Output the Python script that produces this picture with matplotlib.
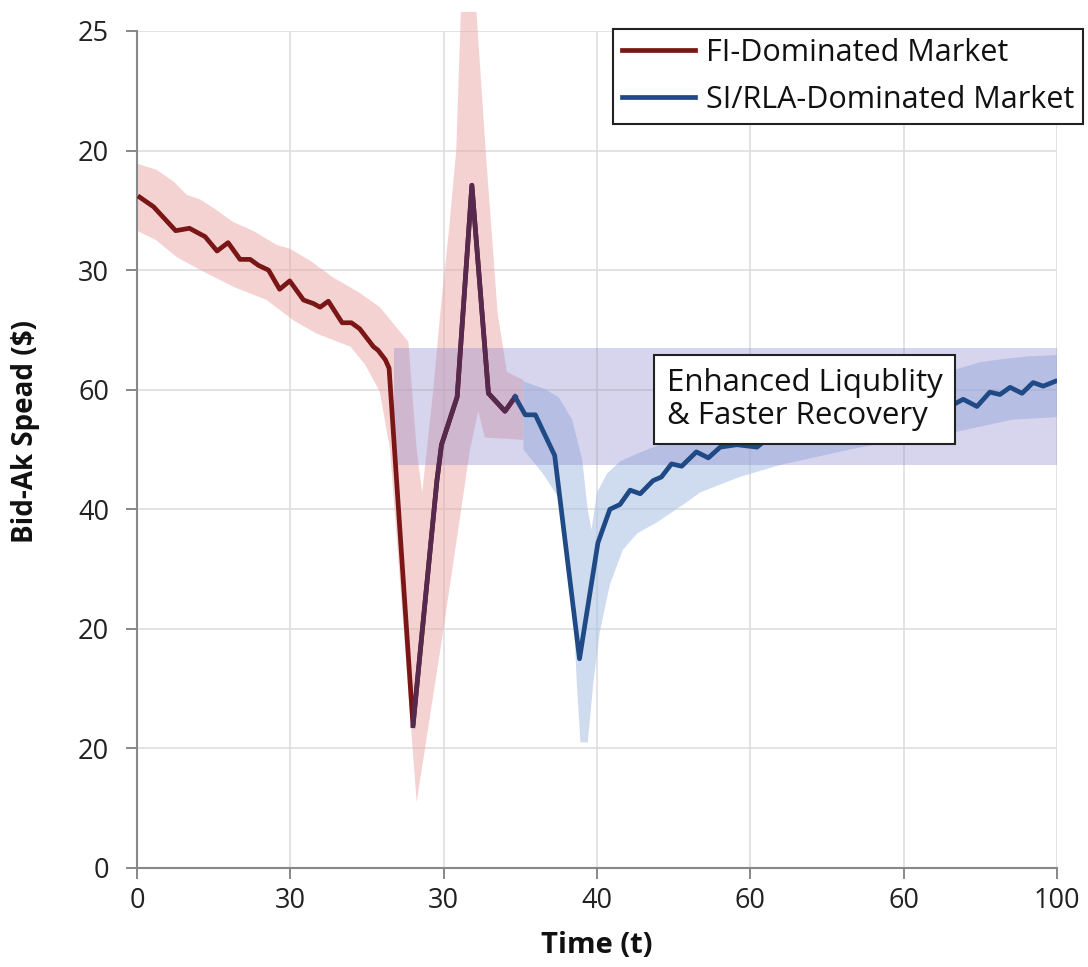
import matplotlib.pyplot as plt
from matplotlib.patches import Rectangle

plt.rcParams["font.family"] = ["Open Sans", "DejaVu Sans"]

# FI-dominated market: spread path
fi_t = [0.3, 1.8, 4.2, 5.7, 7.4, 8.7, 9.9, 11.2, 12.3, 13.2, 14.3, 15.5, 16.6,
        18.1, 19.2, 19.9, 20.8, 22.3, 23.3, 24.2, 25.7, 26.2, 27.0, 27.4,
        30.0, 32.6, 33.1, 34.8, 36.4, 38.2, 40.0, 41.1]
fi_y = [56.1, 55.3, 53.3, 53.5, 52.8, 51.6, 52.3, 50.9, 50.9, 50.4, 50.0, 48.4, 49.1,
        47.5, 47.2, 46.9, 47.4, 45.6, 45.6, 45.1, 43.6, 43.3, 42.5, 41.8,
        11.9, 32.4, 35.4, 39.4, 57.1, 39.7, 38.2, 39.4]
FI_SHOCK_START = 24  # index of the trough; the rebound is drawn in purple

fi_upper_t = [0.0, 2.1, 4.0, 5.4, 6.9, 8.7, 10.5, 12.6, 15.2, 16.6, 18.8, 21.3, 24.2,
              26.4, 27.9, 29.5, 30.4, 31.0, 31.5, 32.2, 33.0, 33.9, 34.7, 35.2,
              36.9, 37.9, 39.2, 40.2, 42.0]
fi_upper = [58.9, 58.4, 57.4, 56.3, 55.9, 55.0, 54.0, 53.3, 52.1, 51.8, 50.8, 49.4, 48.1,
            46.9, 45.5, 44.0, 35.0, 31.4, 35.0, 40.0, 46.7, 53.3, 60.0, 71.6,
            71.6, 60.0, 46.4, 41.5, 40.8]
fi_lower_t = [0.0, 2.1, 4.3, 6.9, 10.5, 14.1, 17.0, 19.5, 23.2, 24.8, 26.4, 27.5,
              30.4, 33.3, 36.2, 37.1, 37.8, 42.0]
fi_lower = [53.3, 52.5, 51.1, 50.0, 48.6, 47.5, 45.8, 44.7, 43.6, 42.1, 39.8, 35.0,
            5.5, 19.9, 35.0, 38.2, 36.0, 35.8]

# SI/RLA-dominated market: spread path
si_t = [41.1, 42.2, 43.3, 45.4, 48.1, 50.1, 51.4, 52.5, 53.6, 54.7, 56.1, 57.0,
        58.1, 59.2, 60.8, 62.1, 63.4, 65.2, 67.4, 68.5, 69.8, 71.2, 72.5, 74.0,
        75.3, 76.8, 78.1, 79.6, 80.9, 82.3, 83.6, 85.0, 86.3, 88.6, 89.8, 91.3,
        92.7, 93.8, 94.9, 96.2, 97.4, 98.5, 99.8]
si_y = [39.4, 37.9, 37.9, 34.5, 17.5, 27.2, 30.0, 30.4, 31.6, 31.3, 32.4, 32.7,
        33.8, 33.6, 34.8, 34.3, 35.2, 35.4, 35.2, 35.9, 35.6, 36.3, 36.0, 36.6,
        36.4, 37.0, 36.8, 37.4, 37.2, 37.8, 37.5, 38.1, 37.9, 38.7, 39.2, 38.6,
        39.8, 39.6, 40.2, 39.7, 40.6, 40.3, 40.7]

si_upper_t = [42.0, 44.2, 45.8, 47.3, 48.4, 49.0, 49.4, 50.0, 51.1, 52.5, 53.9, 55.8,
              57.6, 60.4, 66.6, 72.1, 77.5, 82.9, 88.6, 91.6, 94.5, 97.1, 100.0]
si_upper = [40.7, 40.1, 39.4, 37.5, 34.1, 29.9, 28.3, 31.4, 33.0, 34.0, 34.5, 35.1,
            35.6, 36.2, 37.5, 38.7, 39.8, 40.8, 41.6, 42.3, 42.6, 42.8, 42.9]
si_lower_t = [42.0, 44.1, 45.8, 46.7, 47.3, 47.8, 48.2, 49.0, 49.6, 50.3, 51.4, 52.8,
              54.4, 56.5, 59.4, 61.2, 65.5, 69.9, 77.5, 82.9, 88.6, 95.2, 100.0]
si_lower = [35.0, 33.0, 31.0, 27.7, 23.8, 15.5, 10.5, 10.5, 15.5, 19.7, 23.7, 26.6,
            28.0, 28.9, 30.4, 31.4, 32.7, 33.7, 35.0, 35.8, 36.4, 37.5, 37.7]

# highlighted recovery zone
zone_t = (27.9, 100.1)
zone_y = (33.7, 43.5)

x_ticks = [0, 100 / 6, 200 / 6, 50, 400 / 6, 500 / 6, 100]
x_labels = ["0", "30", "30", "40", "60", "60", "100"]
y_ticks = [0, 10, 20, 30, 40, 50, 60, 70]
y_labels = ["0", "20", "20", "40", "60", "30", "20", "25"]

RED = "#7a1616"
BLUE = "#1f4a85"
PURPLE = "#56294f"

fig = plt.figure(figsize=(10.88, 9.67), dpi=100)
ax = fig.add_axes([137 / 1088, 1 - 868 / 967, 920 / 1088, 837 / 967])

ax.fill(fi_upper_t + fi_lower_t[::-1], fi_upper + fi_lower[::-1],
        color="#eba7a7", alpha=0.5, lw=0, zorder=2, clip_on=False)
ax.fill(si_upper_t + si_lower_t[::-1], si_upper + si_lower[::-1],
        color="#a9c0e4", alpha=0.55, lw=0, zorder=2)
ax.add_patch(Rectangle((zone_t[0], zone_y[0]), zone_t[1] - zone_t[0],
                       zone_y[1] - zone_y[0], color="#8c88cc", alpha=0.35,
                       lw=0, zorder=3))

ax.plot(fi_t, fi_y, color=RED, lw=3.4, zorder=4, label="FI-Dominated Market")
ax.plot(fi_t[FI_SHOCK_START:], fi_y[FI_SHOCK_START:], color=PURPLE, lw=3.4, zorder=4)
ax.plot(si_t, si_y, color=BLUE, lw=3.4, zorder=4, label="SI/RLA-Dominated Market")

ax.text(57.6, 39.2, "Enhanced Liqublity\n& Faster Recovery", fontsize=22.5,
        va="center", ha="left", linespacing=1.15, zorder=6, color="#111111",
        bbox=dict(boxstyle="square,pad=0.4", fc="white", ec="#222222", lw=1.5))

ax.set_xlim(0, 100)
ax.set_ylim(0, 70)
ax.set_xticks(x_ticks)
ax.set_xticklabels(x_labels)
ax.set_yticks(y_ticks)
ax.set_yticklabels(y_labels)
ax.tick_params(axis="both", labelsize=19.5, colors="#888888", labelcolor="#222222",
               length=8, width=1.4)
ax.tick_params(axis="y", pad=12)
ax.tick_params(axis="x", pad=6)
ax.grid(color="#dedede", lw=1.2, zorder=0)
ax.set_axisbelow(True)
for side in ("top", "right"):
    ax.spines[side].set_visible(False)
for side in ("left", "bottom"):
    ax.spines[side].set_color("#888888")
    ax.spines[side].set_linewidth(1.5)

ax.set_xlabel("Time (t)", fontsize=21, fontweight="bold", va="center", color="#111111")
ax.xaxis.set_label_coords(0.5, -0.092)
ax.set_ylabel("Bid-Ak Spead ($)", fontsize=20, fontweight="bold", va="center",
              color="#111111")
ax.yaxis.set_label_coords(-0.121, 0.521)

leg = fig.legend(loc="upper right", bbox_to_anchor=(1083 / 1088, 1 - 29 / 967),
                 fontsize=22, frameon=True, fancybox=False, framealpha=1,
                 edgecolor="#222222", handlelength=2.4, handletextpad=0.33,
                 labelspacing=0.55, borderpad=0.3, borderaxespad=0)
leg.get_frame().set_linewidth(1.5)
for txt in leg.get_texts():
    txt.set_color("#111111")

fig.savefig("out.png", dpi=100, facecolor="white")
